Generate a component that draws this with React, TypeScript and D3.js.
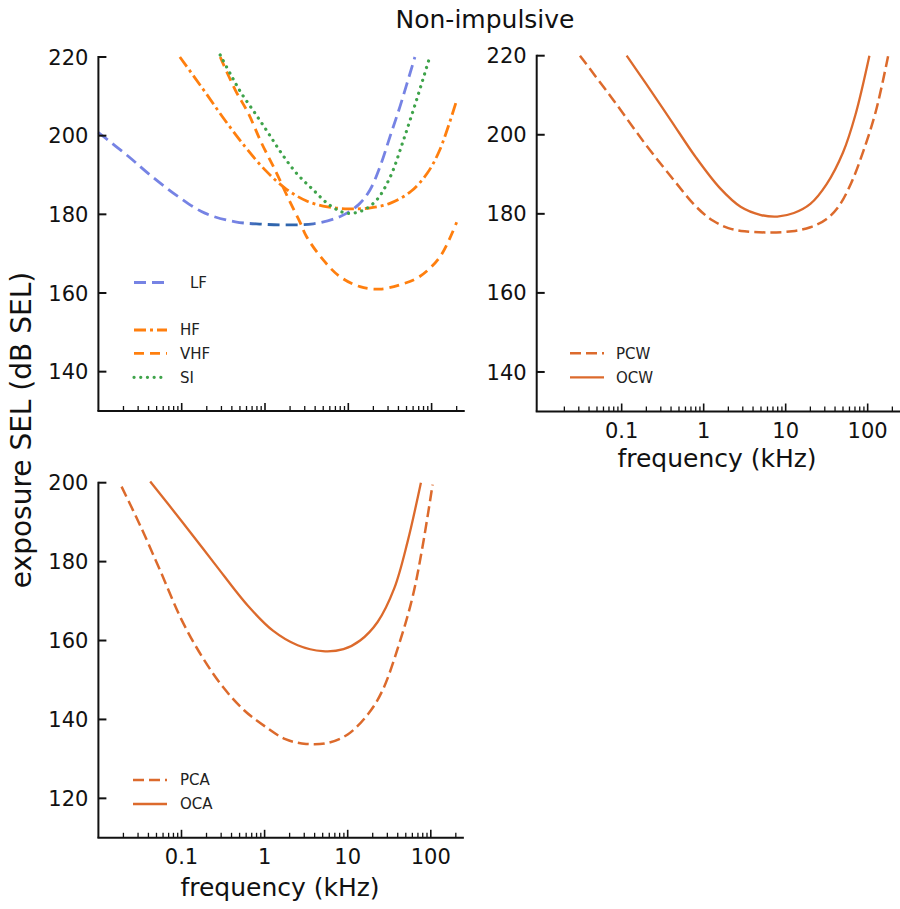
import React from "react";
import * as d3 from "d3";

// ---------- data ----------
const LF_f = [0.01, 0.023, 0.044, 0.091, 0.19, 0.44, 0.91, 1.74, 3.8, 7.9, 13.2, 18.2, 24, 31.6, 41.7, 63];
const LF_v = [200.8, 194.7, 189.6, 184.5, 180.3, 178.1, 177.5, 177.3, 177.6, 179.4, 182.4, 186.2, 192.1, 199.7, 207.4, 220];

const HF_f = [0.095, 0.178, 0.316, 0.562, 1, 1.78, 3.16, 5.62, 10, 17.8, 31.6, 56.2, 89, 126, 200];
const HF_v = [220, 212, 204.5, 197.5, 191.3, 186.5, 183.4, 181.9, 181.4, 181.6, 182.8, 185.8, 190.5, 196.5, 209];

const VHF_f = [0.29, 0.44, 0.63, 0.91, 1.32, 1.9, 2.63, 3.16, 5, 7.9, 13.8, 24, 42, 72, 126, 200];
const VHF_v = [220, 211.6, 205.7, 198.1, 191.3, 184.1, 178, 174.3, 168.4, 164.2, 161.6, 161, 162.1, 164.2, 169.2, 178];

const SI_f = [0.29, 0.4, 0.52, 0.76, 1.1, 1.58, 2.4, 3.8, 6, 9.5, 15, 22, 32, 46, 66, 95];
const SI_v = [220.5, 215, 210.8, 205.7, 200.6, 195.5, 190.4, 186.2, 182.3, 180.3, 181, 183.7, 189.6, 198.9, 209.1, 220];

const PCW_f = [0.031, 0.079, 0.2, 0.43, 0.81, 1.29, 2, 3.16, 6.3, 12, 20, 31.6, 44.7, 63, 89, 126, 178];
const PCW_v = [220, 208.8, 197.3, 188.6, 181.8, 178.3, 176.4, 175.6, 175.3, 175.6, 176.6, 178.7, 182, 187.8, 196, 206, 220];

const OCW_f = [0.115, 0.2, 0.4, 0.79, 1.58, 2.82, 5, 7.9, 12.6, 20, 31.6, 50, 70.8, 105];
const OCW_v = [220, 212.8, 203.6, 194.5, 186.5, 181.8, 179.7, 179.3, 180.2, 182.5, 187.5, 195.5, 205, 220];

const PCA_f = [0.019, 0.0316, 0.056, 0.1, 0.178, 0.316, 0.562, 1, 1.78, 3.16, 5.62, 10, 17.8, 26.3, 41.7, 60.3, 79.4, 105];
const PCA_v = [199, 189.3, 177.5, 165.3, 155.8, 148.2, 142.4, 138.3, 135, 133.8, 134, 136.2, 141.5, 147.4, 159.2, 171, 183.7, 199.5];

const OCA_f = [0.042, 0.1, 0.25, 0.63, 1.26, 2.5, 5, 8.9, 14.1, 22.9, 36.3, 52.5, 76];
const OCA_v = [200.3, 190.3, 179.5, 168.8, 162.5, 158.8, 157.3, 157.8, 160, 164.7, 173.2, 185, 200];

const xTickMajor = [0.1, 1, 10, 100];
const xTickLabels = ["0.1", "1", "10", "100"];
const yTicksTop = [140, 160, 180, 200, 220];
const yTicksBottom = [120, 140, 160, 180, 200];

const TITLE = "Non-impulsive";
const X_TITLE = "frequency (kHz)";
const Y_TITLE = "exposure SEL (dB SEL)";

const FONT = "DejaVu Sans, Arial, sans-serif";

type Series = { name: string; f: number[]; v: number[]; color: string; dash: string; width: number; cap?: string; stroke?: string };

const seriesTL: Series[] = [
  { name: "LF", f: LF_f, v: LF_v, color: "#7683e4", stroke: "url(#lfGrad)", dash: "12,6", width: 2.8 },
  { name: "HF", f: HF_f, v: HF_v, color: "#ff7f0e", dash: "12,4,3,4", width: 2.8 },
  { name: "VHF", f: VHF_f, v: VHF_v, color: "#ff7f0e", dash: "10,6", width: 2.8 },
  { name: "SI", f: SI_f, v: SI_v, color: "#3ea34a", dash: "0.1,6.6", width: 3.2, cap: "round" },
];
const seriesTR: Series[] = [
  { name: "PCW", f: PCW_f, v: PCW_v, color: "#dc6a2c", dash: "11,5", width: 2.5 },
  { name: "OCW", f: OCW_f, v: OCW_v, color: "#dc6a2c", dash: "", width: 2.3 },
];
const seriesBL: Series[] = [
  { name: "PCA", f: PCA_f, v: PCA_v, color: "#dc6a2c", dash: "11,5", width: 2.5 },
  { name: "OCA", f: OCA_f, v: OCA_v, color: "#dc6a2c", dash: "", width: 2.3 },
];

type PanelProps = {
  x0: number; perDecade: number; fMin: number; fMax: number;
  yTop: number; yBottom: number; vMax: number; vMin: number;
  yTicks: number[]; series: Series[];
  legend: { x1: number; x2: number; tx: number; ys: number[] };
  showXLabels: boolean;
};

function Panel(p: PanelProps) {
  const x = d3.scaleLog().domain([p.fMin, p.fMax])
    .range([p.x0, p.x0 + p.perDecade * Math.log10(p.fMax / p.fMin)]);
  const y = d3.scaleLinear().domain([p.vMin, p.vMax]).range([p.yBottom, p.yTop]);
  const line = d3.line<[number, number]>()
    .x((d) => x(d[0]))
    .y((d) => y(d[1]))
    .curve(d3.curveCatmullRom.alpha(0.5));
  const minors: number[] = [];
  for (let dec = -2; dec <= 2; dec++) {
    for (let m = 2; m <= 9; m++) {
      const f = m * Math.pow(10, dec);
      if (f > p.fMin && f <= p.fMax) minors.push(f);
    }
  }
  const [xa, xb] = x.range();
  const axisY = y(p.vMin);
  return (
    <g>
      {p.series.map((s) => (
        <path key={s.name}
          d={line(s.f.map((f, i) => [f, s.v[i]] as [number, number])) || ""}
          fill="none" stroke={s.stroke || s.color} strokeWidth={s.width}
          strokeDasharray={s.dash || undefined}
          strokeLinecap={(s.cap as any) || "butt"} />
      ))}
      {/* axes */}
      <line x1={xa} x2={xa} y1={y(p.vMax) - 1} y2={axisY} stroke="#111" strokeWidth={2} />
      <line x1={xa - 1} x2={xb} y1={axisY} y2={axisY} stroke="#111" strokeWidth={2} />
      {p.yTicks.map((t) => (
        <g key={"y" + t}>
          <line x1={xa} x2={xa + 8} y1={y(t)} y2={y(t)} stroke="#111" strokeWidth={2} />
          <text x={xa - 10} y={y(t)} dy="0.36em" textAnchor="end" fontSize={21} fontFamily={FONT} fill="#111">{t}</text>
        </g>
      ))}
      {xTickMajor.map((t, i) => (
        <g key={"x" + t}>
          <line x1={x(t)} x2={x(t)} y1={axisY} y2={axisY - 8} stroke="#111" strokeWidth={1.6} />
          {p.showXLabels && (
            <text x={x(t)} y={axisY + 26.5} textAnchor="middle" fontSize={21} fontFamily={FONT} fill="#111">{xTickLabels[i]}</text>
          )}
        </g>
      ))}
      {minors.map((t) => (
        <line key={"m" + t} x1={x(t)} x2={x(t)} y1={axisY} y2={axisY - 5} stroke="#111" strokeWidth={1.3} />
      ))}
      {/* legend */}
      {p.series.map((s, i) => (
        <g key={"lg" + s.name}>
          <line x1={p.legend.x1} x2={p.legend.x2} y1={p.legend.ys[i]} y2={p.legend.ys[i]}
            stroke={s.color} strokeWidth={s.width} strokeDasharray={s.dash || undefined}
            strokeLinecap={(s.cap as any) || "butt"} />
          <text x={s.name === "LF" ? p.legend.tx + 10 : p.legend.tx} y={p.legend.ys[i]} dy="0.36em"
            fontSize={15} fontFamily={FONT} fill="#222">{s.name}</text>
        </g>
      ))}
    </g>
  );
}

export default function App() {
  return (
    <svg width={900} height={909} viewBox="0 0 900 909"
      style={{ position: "absolute", left: 0, top: 0, background: "#fff" }}>
      <defs>
        <linearGradient id="lfGrad" gradientUnits="userSpaceOnUse" x1={98} y1={0} x2={465} y2={0}>
          <stop offset="0" stopColor="#7683e4" />
          <stop offset="0.38" stopColor="#7683e4" />
          <stop offset="0.44" stopColor="#2f65ad" />
          <stop offset="0.56" stopColor="#2f65ad" />
          <stop offset="0.62" stopColor="#7683e4" />
          <stop offset="1" stopColor="#7683e4" />
        </linearGradient>
      </defs>
      <rect x={0} y={0} width={900} height={909} fill="#fff" />
      <text x={485} y={28} textAnchor="middle" fontSize={25} fontFamily={FONT} fill="#111">{TITLE}</text>
      <Panel x0={98.4} perDecade={83.3} fMin={0.01} fMax={250}
        yTop={57} yBottom={411} vMax={220} vMin={130}
        yTicks={yTicksTop} series={seriesTL}
        legend={{ x1: 134, x2: 167, tx: 180, ys: [282.5, 330, 353.3, 377.3] }}
        showXLabels={false} />
      <Panel x0={536.7} perDecade={82} fMin={0.0092} fMax={250}
        yTop={55.7} yBottom={411.5} vMax={220} vMin={130}
        yTicks={yTicksTop} series={seriesTR}
        legend={{ x1: 570, x2: 604, tx: 616, ys: [353.3, 377.3] }}
        showXLabels={true} />
      <Panel x0={98.4} perDecade={83.1} fMin={0.01} fMax={250}
        yTop={482.7} yBottom={837.8} vMax={200} vMin={110}
        yTicks={yTicksBottom} series={seriesBL}
        legend={{ x1: 133, x2: 167, tx: 180, ys: [780, 804] }}
        showXLabels={true} />
      <text x={717} y={467} textAnchor="middle" fontSize={25} fontFamily={FONT} fill="#111">{X_TITLE}</text>
      <text x={280} y={896} textAnchor="middle" fontSize={25} fontFamily={FONT} fill="#111">{X_TITLE}</text>
      <text transform="translate(31,430) rotate(-90)" textAnchor="middle" fontSize={28} fontFamily={FONT} fill="#111">{Y_TITLE}</text>
    </svg>
  );
}
